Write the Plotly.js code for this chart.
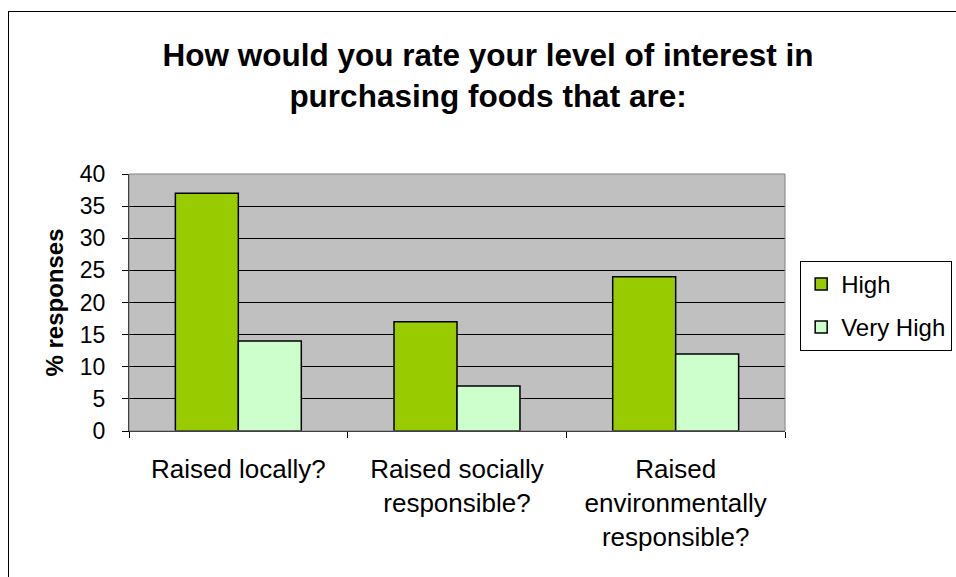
<!DOCTYPE html>
<html>
<head>
<meta charset="utf-8">
<script src="https://cdn.plot.ly/plotly-3.0.1.min.js"></script>
<style>
  html, body { margin: 0; padding: 0; background: #ffffff; overflow: hidden; }
  #wrap { position: relative; width: 956px; height: 577px; }
  #frame { position: absolute; left: 8px; top: 11px; width: 1000px; height: 700px; border: 1px solid #000; box-sizing: border-box; pointer-events: none; }
  #chart { position: absolute; left: 0; top: 0; width: 956px; height: 577px; }
</style>
</head>
<body>
<div id="wrap">
  <div id="chart"></div>
  <div id="frame"></div>
</div>
<script>
const categories = ["Raised locally?", "Raised socially<br>responsible?", "Raised<br>environmentally<br>responsible?"];
const highValues = [37, 17, 24];
const veryHighValues = [14, 7, 12];
const seriesNames = ["High", "Very High"];
const yTickVals = [0, 5, 10, 15, 20, 25, 30, 35, 40];

const FONT = "Liberation Sans, Arial, sans-serif";

const traces = [
  {
    type: "bar", name: seriesNames[0], x: categories, y: highValues,
    marker: { color: "#99CC00", line: { color: "#000000", width: 1.5 } },
    legendgroup: "a", hoverinfo: "skip"
  },
  {
    type: "bar", name: seriesNames[1], x: categories, y: veryHighValues,
    marker: { color: "#CCFFCC", line: { color: "#000000", width: 1.5 } },
    legendgroup: "b", hoverinfo: "skip"
  }
];

const layout = {
  width: 956, height: 577,
  margin: { l: 129, r: 171, t: 174, b: 146, pad: 0, autoexpand: false },
  paper_bgcolor: "#ffffff",
  plot_bgcolor: "#C0C0C0",
  font: { family: FONT, color: "#000000", size: 23 },
  title: {
    text: "<b>How would you rate your level of interest in<br>purchasing foods that are:</b>",
    font: { family: FONT, size: 31.5, color: "#000000" },
    x: 0.5105, xanchor: "center", y: 0.886, yanchor: "middle"
  },
  barmode: "group",
  bargap: 0.424,
  bargroupgap: 0,
  showlegend: true,
  legend: {
    xref: "container", yref: "container",
    x: 0.837, xanchor: "left", y: 0.548, yanchor: "top",
    bordercolor: "#000000", borderwidth: 1, bgcolor: "#ffffff",
    font: { family: FONT, size: 24, color: "#000000" },
    traceorder: "grouped", tracegroupgap: 9
  },
  xaxis: {
    type: "category",
    showline: true, linecolor: "#000000", linewidth: 1,
    ticks: "outside", ticklen: 6, tickcolor: "#000000", tickson: "boundaries",
    tickfont: { family: FONT, size: 26 },
    ticklabelstandoff: 15,
    showgrid: false, zeroline: false, fixedrange: true
  },
  yaxis: {
    range: [0, 40],
    tickvals: yTickVals,
    showline: true, linecolor: "#000000", linewidth: 1,
    ticks: "outside", ticklen: 6, tickcolor: "#000000",
    tickfont: { family: FONT, size: 23 },
    ticklabelstandoff: 12,
    showgrid: true, gridcolor: "#000000", gridwidth: 1,
    zeroline: false, fixedrange: true,
    title: { text: "<b>% responses</b>", font: { family: FONT, size: 24 }, standoff: 9 }
  },
  shapes: [
    { type: "rect", xref: "paper", yref: "paper", x0: 0, x1: 1, y0: 0, y1: 1,
      line: { color: "#808080", width: 1 }, fillcolor: "rgba(0,0,0,0)", layer: "above" }
  ]
};

Plotly.newPlot("chart", traces, layout, { displayModeBar: false, staticPlot: true });
</script>
</body>
</html>
